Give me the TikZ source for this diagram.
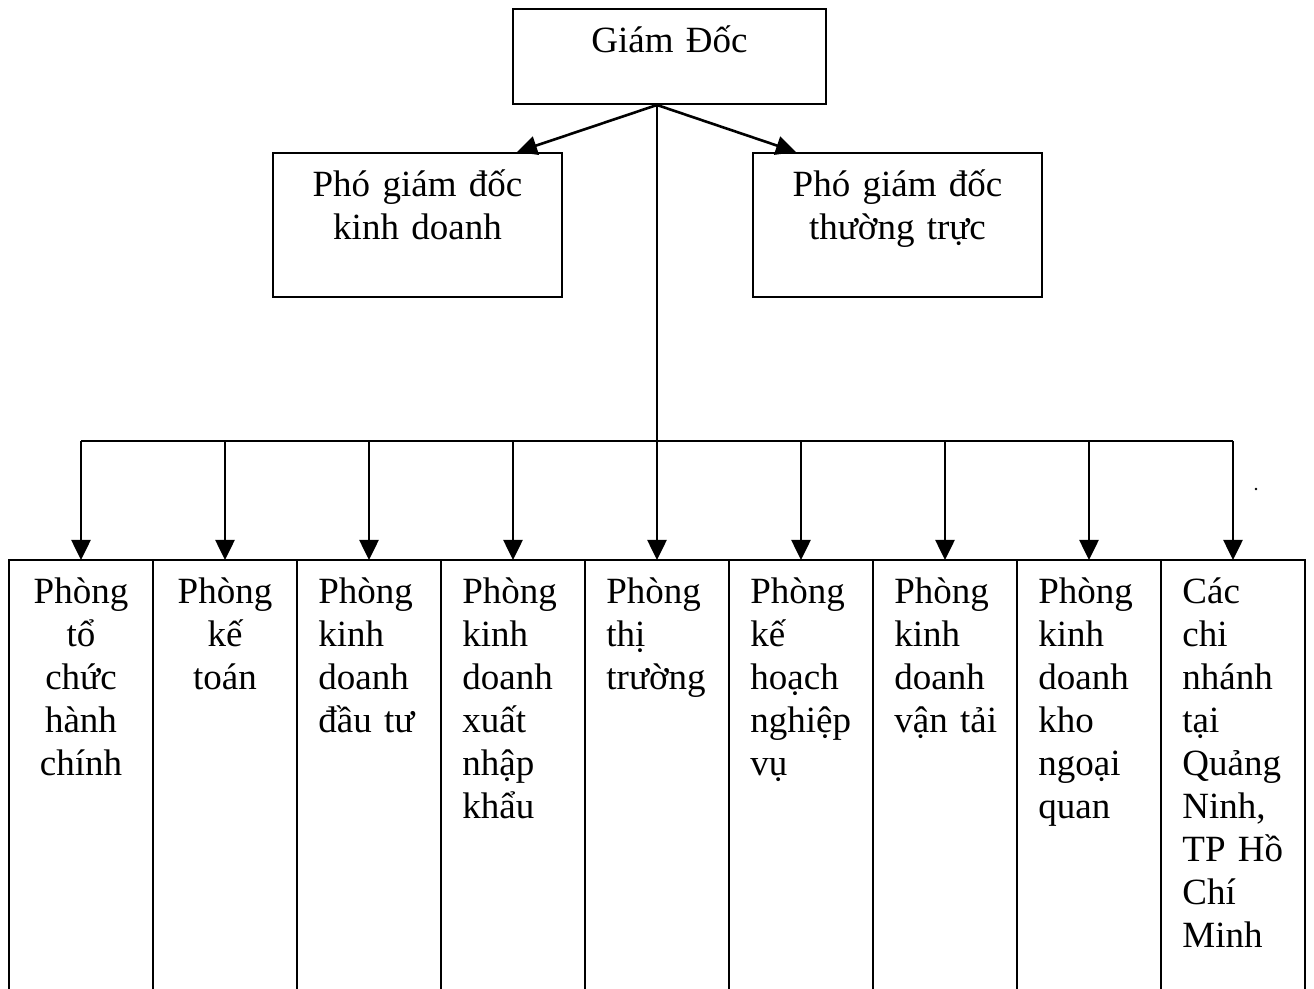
\documentclass[tikz,border=0pt]{standalone}
\usepackage{fontspec}
\setmainfont{Liberation Serif}
\usetikzlibrary{arrows.meta}
\newcommand{\chartfont}{\fontsize{18.5pt}{21.5pt}\selectfont}

\begin{document}
\begin{tikzpicture}[
  x=0.5pt,
  y=-0.5pt,
  every node/.style={font=\chartfont, inner sep=0pt},
  box/.style={draw, line width=1pt, minimum width=144.5pt, minimum height=72pt},
  frame/.style={line width=1pt},
  wire/.style={line width=1.3pt},
  link/.style={line width=1.3pt, -{Triangle[length=10pt, width=9.5pt]}},
  titletext/.style={anchor=base, align=center, text width=144.5pt},
  deptmid/.style={anchor=base, align=center, text width=72pt},
  deptleft/.style={anchor=base west, align=left, text width=60pt}
]
  \useasboundingbox (0,0) rectangle (1314,989);

  % ---- director and deputies ----------------------------------------
  \node[box, minimum width=156.5pt, minimum height=47.5pt] (gd) at (669.5,56.5) {};
  \node[box] (pgdkd) at (417.5,225) {};
  \node[box] (pgdtt) at (897.5,225) {};
  \node[titletext] (gdname) at (669.5,53) {Giám Đốc};
  \node[titletext] (pgdkdname) at (417.5,197) {Phó giám đốc\\kinh doanh};
  \node[titletext] (pgdttname) at (897.5,197) {Phó giám đốc\\thường trực};

  % ---- links from the director ----------------------------------------
  \coordinate (hub) at (657,441);
  \draw[link] (gd.south -| hub) -- ([xshift=-23pt]pgdkd.north east);
  \draw[link] (gd.south -| hub) -- ([xshift=22pt]pgdtt.north west);
  \draw[wire] (gd.south -| hub) -- (hub);

  % ---- the departments ------------------------------------------------
  \foreach \i in {0,...,8}
    \coordinate (dept\i) at (81+144*\i,560);
  \draw[wire] (dept0 |- hub) -- (dept8 |- hub);
  \foreach \i in {0,...,8}
    \draw[link] (dept\i |- hub) -- (dept\i);

  % open bottom: the columns run off the page
  \draw[frame] (9,989) |- (1305,560) -- (1305,989);
  \foreach \i in {1,...,8}
    \draw[frame] (9+144*\i,560) -- (9+144*\i,989);

  \node[deptmid] (d0) at (81,604) {Phòng\\tổ\\chức\\hành\\chính};
  \node[deptmid] (d1) at (225,604) {Phòng\\kế\\toán};
  \node[deptleft] (d2) at (318,604) {Phòng\\kinh\\doanh\\đầu tư};
  \node[deptleft] (d3) at (462,604) {Phòng\\kinh\\doanh\\xuất\\nhập\\khẩu};
  \node[deptleft] (d4) at (606,604) {Phòng\\thị\\trường};
  \node[deptleft] (d5) at (750,604) {Phòng\\kế\\hoạch\\nghiệp\\vụ};
  \node[deptleft] (d6) at (894,604) {Phòng\\kinh\\doanh\\vận tải};
  \node[deptleft] (d7) at (1038,604) {Phòng\\kinh\\doanh\\kho\\ngoại\\quan};
  \node[deptleft] (d8) at (1182,604)
    {Các\\chi\\nhánh\\tại\\Quảng\\Ninh,\\TP Hồ\\Chí\\Minh};

  % stray full stop right of the last drop
  \fill (1256,489) circle[radius=0.7pt];
\end{tikzpicture}
\end{document}
